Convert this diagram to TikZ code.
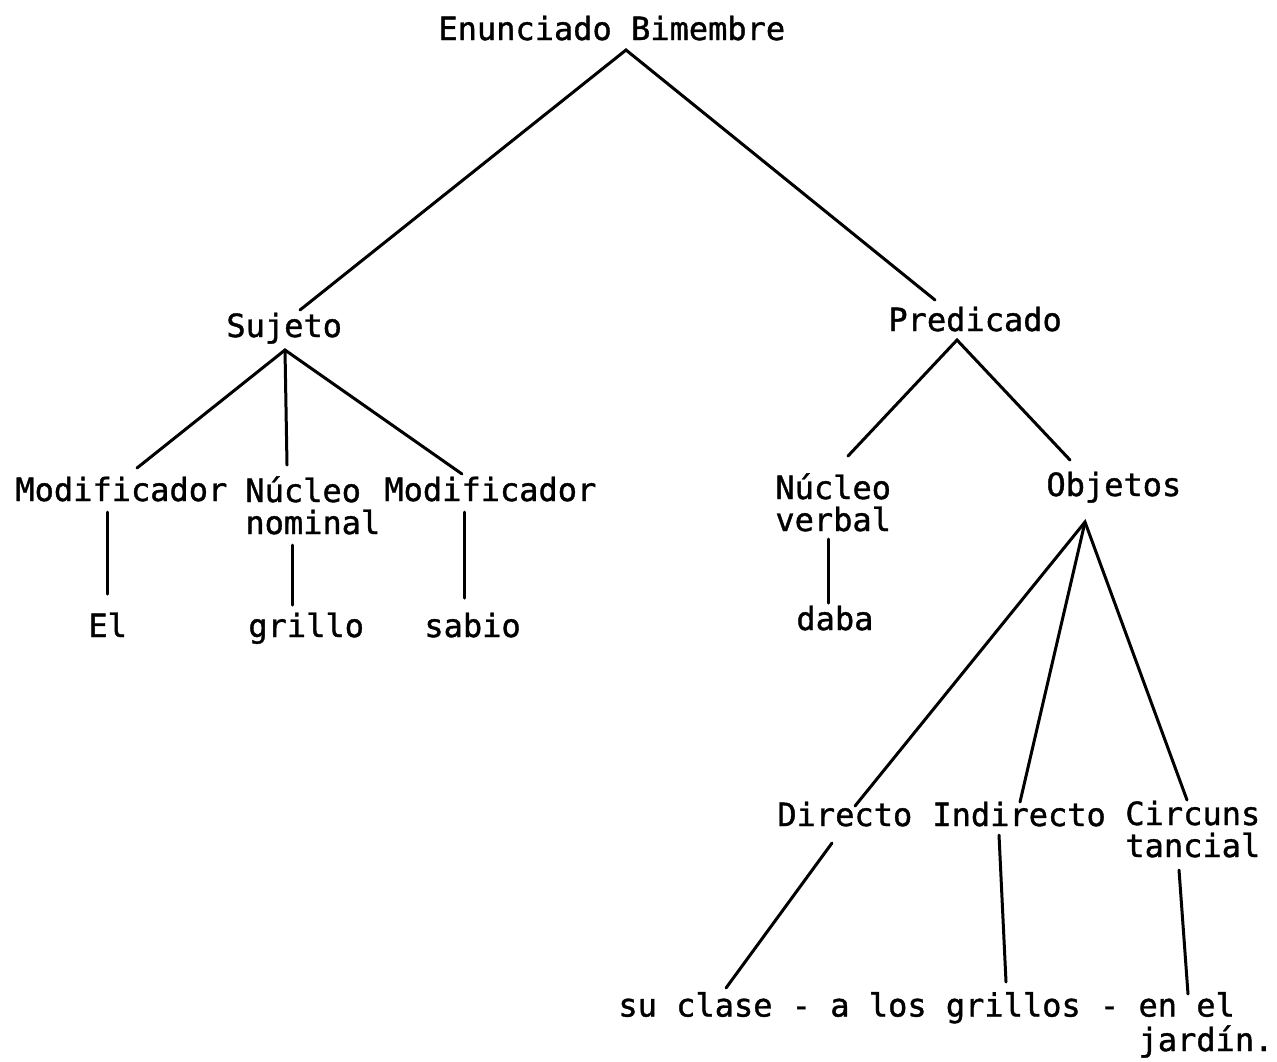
\documentclass[tikz,border=0pt]{standalone}
\usepackage{fontspec}
\setmonofont{DejaVu Sans Mono}[BoldFont={DejaVu Sans Mono},BoldFeatures={FakeBold=1.2}]
\begin{document}
\begin{tikzpicture}[x=0.5pt,y=-0.5pt,
  lbl/.style={font=\ttfamily\bfseries\fontsize{16}{16}\selectfont, inner sep=0pt, anchor=base west, align=left},
  edge/.style={line width=1.5pt, line cap=round}]
\useasboundingbox (0,0) rectangle (1277,1061);
% texts (multi-line nodes are placed at the baseline of their last line)
\node[lbl] (enun) at (438,40) {Enunciado Bimembre};
\node[lbl] (suj) at (226,337) {Sujeto};
\node[lbl] (pred) at (888,331) {Predicado};
\node[lbl] (mod1) at (15,501) {Modificador};
\node[lbl] (nnom) at (245,534) {Núcleo\\nominal};
\node[lbl] (mod2) at (384,501) {Modificador};
\node[lbl] (el) at (88,637) {El};
\node[lbl] (gri) at (248,637) {grillo};
\node[lbl] (sab) at (424,637) {sabio};
\node[lbl] (nver) at (775,531) {Núcleo\\verbal};
\node[lbl] (daba) at (796,630) {daba};
\node[lbl] (obj) at (1046,496) {Objetos};
\node[lbl] (dir) at (777,826) {Directo};
\node[lbl] (ind) at (932,826) {Indirecto};
\node[lbl] (circ) at (1125,857) {Circuns\\ tancial};
\node[lbl] (frase) at (618,1051) {su clase - a los grillos - en el\\\hspace*{27\fontcharwd\font`m}jardín.};
% connector end points
\coordinate (eA) at (626,50);
\coordinate (sT) at (300,310);
\coordinate (pT) at (935,300);
\coordinate (sA) at (285,350);
\coordinate (m1T) at (137,468);
\coordinate (nnT) at (287,465);
\coordinate (m2T) at (462,474);
\coordinate (pA) at (957,340);
\coordinate (nvT) at (848,456);
\coordinate (oT) at (1070,460);
\coordinate (m1B) at (107,512);
\coordinate (elT) at (107,594);
\coordinate (nnB) at (292,545);
\coordinate (grT) at (292,605);
\coordinate (m2B) at (464,512);
\coordinate (saT) at (464,598);
\coordinate (nvB) at (828,539);
\coordinate (daT) at (828,603);
\coordinate (oA) at (1085,522);
\coordinate (dT) at (855,806);
\coordinate (iT) at (1020,802);
\coordinate (cT) at (1187,800);
\coordinate (dB) at (832,843);
\coordinate (f1) at (726,988);
\coordinate (iB) at (999,835);
\coordinate (f2) at (1006,982);
\coordinate (cB) at (1179,870);
\coordinate (f3) at (1188,994);
% connectors
\draw[edge] (sT) -- (eA) -- (pT);
\draw[edge] (m1T) -- (sA) -- (m2T);
\draw[edge] (sA) -- (nnT);
\draw[edge] (nvT) -- (pA) -- (oT);
\draw[edge] (m1B) -- (elT);
\draw[edge] (nnB) -- (grT);
\draw[edge] (m2B) -- (saT);
\draw[edge] (nvB) -- (daT);
\draw[edge] (dT) -- (oA) -- (cT);
\draw[edge] (oA) -- (iT);
\draw[edge] (dB) -- (f1);
\draw[edge] (iB) -- (f2);
\draw[edge] (cB) -- (f3);
\end{tikzpicture}
\end{document}
